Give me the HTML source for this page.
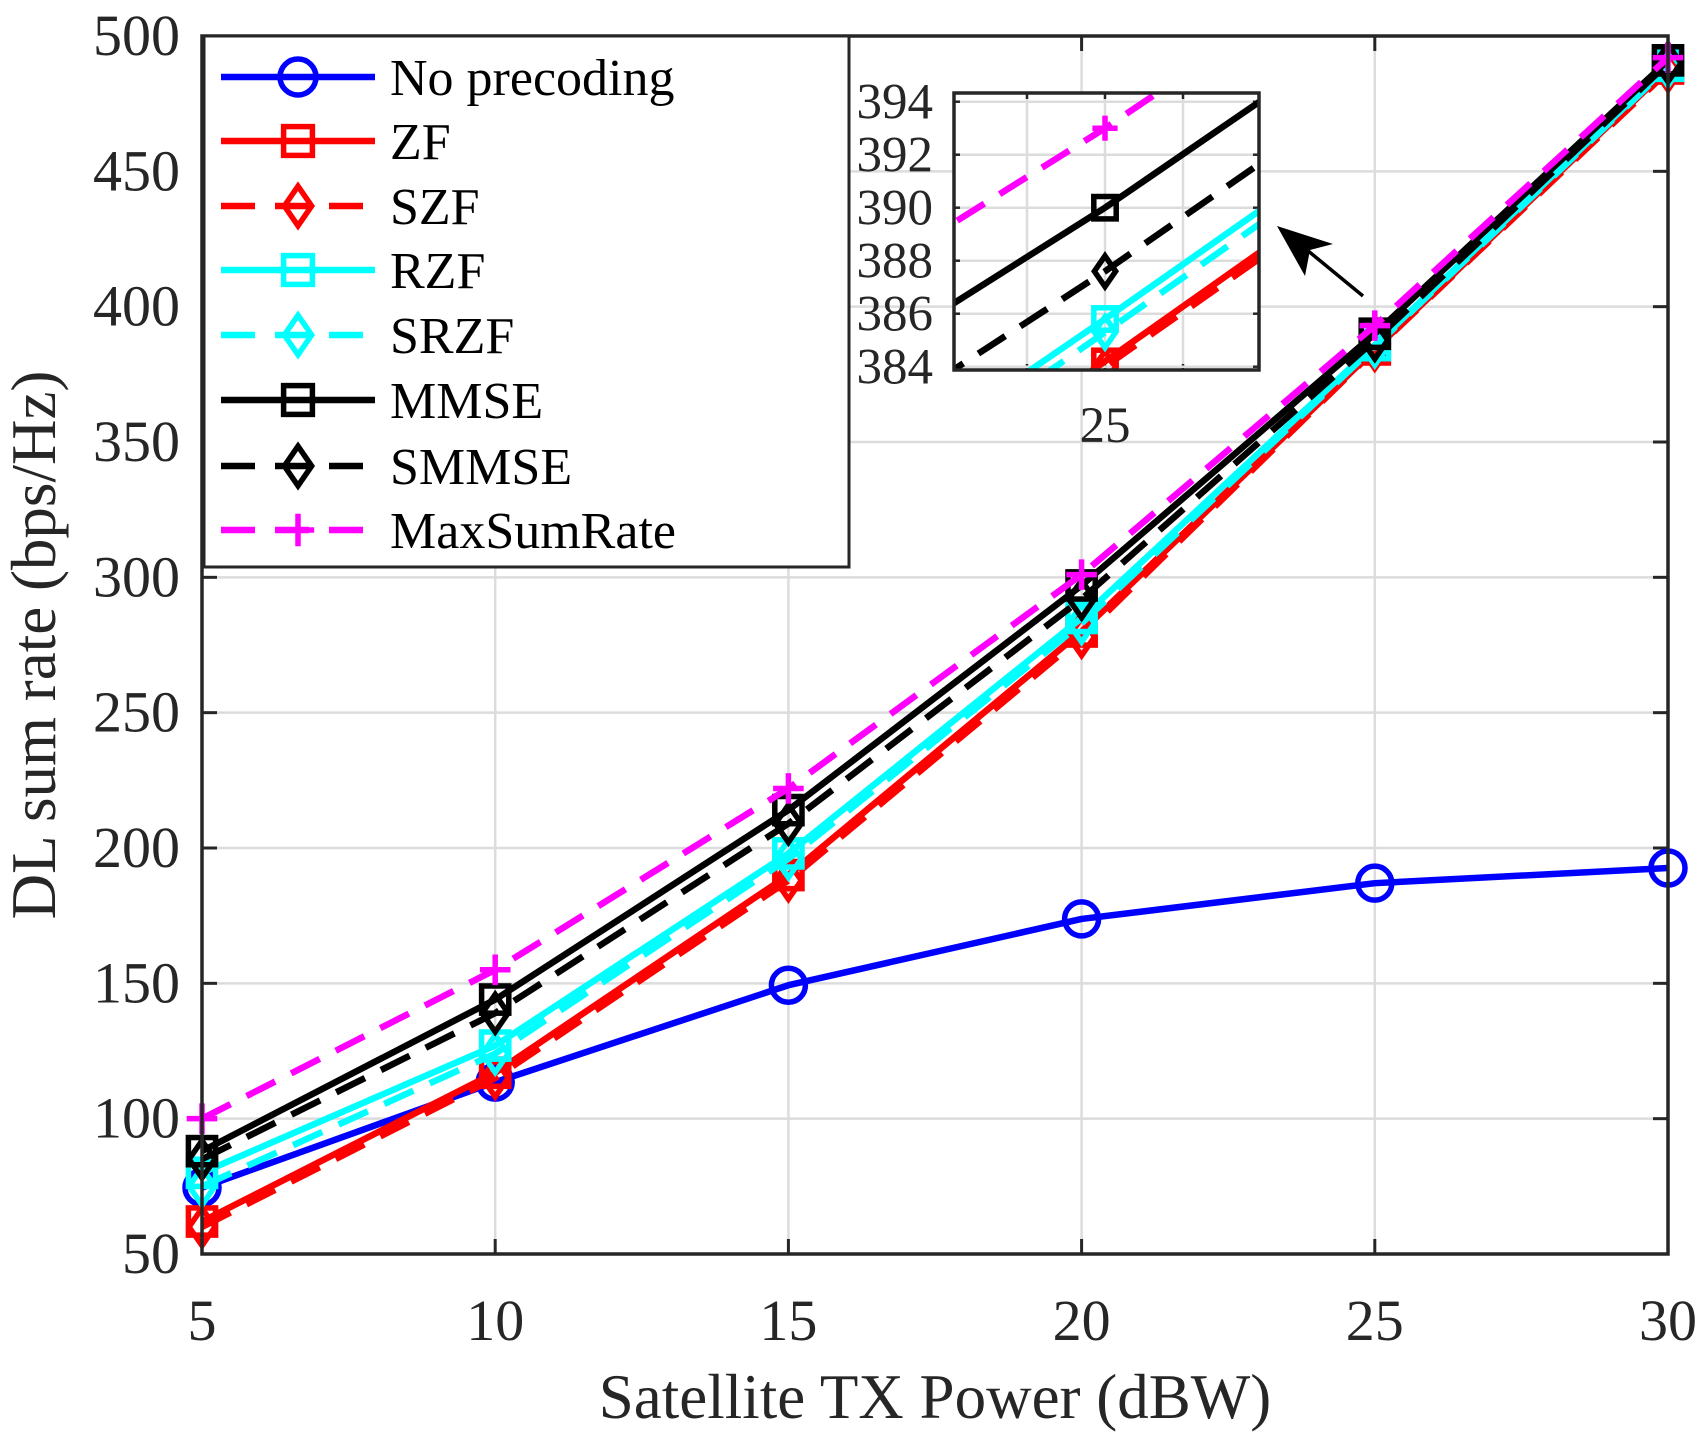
<!DOCTYPE html>
<html><head><meta charset="utf-8"><style>
html,body{margin:0;padding:0;background:#fff;width:1706px;height:1442px;overflow:hidden;}
svg{display:block;position:absolute;left:0;top:0;overflow:hidden;font-family:"Liberation Serif",serif;}
</style></head><body>
<svg id="chart" width="1706" height="1442" viewBox="0 0 1706 1442" xmlns="http://www.w3.org/2000/svg"></svg>
<script>
const xValues = [5, 10, 15, 20, 25, 30];
const seriesNames = ["No precoding","ZF","SZF","RZF","SRZF","MMSE","SMMSE","MaxSumRate"];
const noPrecoding = [74.5, 113.5, 149.3, 173.8, 187, 192.6];
const zf = [62, 117, 190, 280, 384.2, 488];
const szf = [60, 115, 188, 278, 384, 487];
const rzf = [80, 127, 198, 285, 385.8, 489];
const srzf = [75, 124, 196, 283, 385.3, 488.5];
const mmse = [88, 144, 214, 297, 390, 491];
const smmse = [85, 139, 209, 292, 387.6, 490];
const maxSumRate = [100, 155, 222, 301, 393, 492];
const xTicks = [5, 10, 15, 20, 25, 30];
const yTicks = [50, 100, 150, 200, 250, 300, 350, 400, 450, 500];
const insetYTicks = [384, 386, 388, 390, 392, 394];
const insetXTicks = [24.9, 25, 25.1];

const NS = "http://www.w3.org/2000/svg";
const svg = document.getElementById('chart');
function mk(tag, attrs, parent){const e=document.createElementNS(NS,tag);for(const k in attrs)e.setAttribute(k,attrs[k]);(parent||svg).appendChild(e);return e;}

const P={l:202,t:36,r:1668,b:1254};
const xS=v=>P.l+(v-5)/25*(P.r-P.l);
const yS=v=>P.b-(v-50)/450*(P.b-P.t);
const I={l:954,t:93,r:1259,b:370};
const ixS=v=>1105+(v-25)*780;
const iyS=v=>366.7-(v-384)*26.5;

const styles=[
 {c:"#0000ff",d:null,m:"circle",data:noPrecoding},
 {c:"#ff0000",d:null,m:"square",data:zf},
 {c:"#ff0000",d:"32 18",m:"diamond",data:szf},
 {c:"#00ffff",d:null,m:"square",data:rzf},
 {c:"#00ffff",d:"32 18",m:"diamond",data:srzf},
 {c:"#000000",d:null,m:"square",data:mmse},
 {c:"#000000",d:"32 18",m:"diamond",data:smmse},
 {c:"#ff00ff",d:"32 18",m:"plus",data:maxSumRate}
];
function marker(g,type,x,y,c,s){
  const a={fill:"none",stroke:c,"stroke-width":5.5};
  if(type==="circle")mk("circle",Object.assign({cx:x,cy:y,r:s*0.5},a),g);
  else if(type==="square")mk("rect",Object.assign({x:x-s*0.4,y:y-s*0.4,width:s*0.8,height:s*0.8},a),g);
  else if(type==="diamond")mk("polygon",Object.assign({points:`${x},${y-s*0.55} ${x+s*0.38},${y} ${x},${y+s*0.55} ${x-s*0.38},${y}`},a),g);
  else mk("path",Object.assign({d:`M${x-s*0.45},${y}H${x+s*0.45}M${x},${y-s*0.45}V${y+s*0.45}`},a),g);
}

const grid=mk("g",{});
xTicks.forEach(v=>mk("line",{x1:xS(v),x2:xS(v),y1:P.t,y2:P.b,stroke:"#dcdcdc","stroke-width":2.5},grid));
yTicks.forEach(v=>mk("line",{x1:P.l,x2:P.r,y1:yS(v),y2:yS(v),stroke:"#dcdcdc","stroke-width":2.5},grid));
const ax=mk("g",{});
xTicks.forEach(v=>{
  mk("line",{x1:xS(v),x2:xS(v),y1:P.b,y2:P.b-15,stroke:"#262626","stroke-width":3},ax);
  mk("line",{x1:xS(v),x2:xS(v),y1:P.t,y2:P.t+15,stroke:"#262626","stroke-width":3},ax);
  const t=mk("text",{x:xS(v),y:1340,"text-anchor":"middle","font-size":58,fill:"#262626"},ax);
  
  
  t.textContent=v;
});
yTicks.forEach(v=>{
  mk("line",{x1:P.l,x2:P.l+15,y1:yS(v),y2:yS(v),stroke:"#262626","stroke-width":3},ax);
  mk("line",{x1:P.r,x2:P.r-15,y1:yS(v),y2:yS(v),stroke:"#262626","stroke-width":3},ax);
  const t=mk("text",{x:180,y:yS(v)+19,"text-anchor":"end","font-size":58,fill:"#262626"},ax);
  
  
  t.textContent=v;
});
function drawSeries(g,xs,ys,ms){
  styles.forEach((s,i)=>{
    const sg=mk("g",{},g);
    
    
    const pts=xValues.map((x,j)=>xs(x)+","+ys(s.data[j])).join(" ");
    const pl={points:pts,fill:"none",stroke:s.c,"stroke-width":6.5,"stroke-linejoin":"round"};
    if(s.d)pl["stroke-dasharray"]=s.d;
    mk("polyline",pl,sg);
    xValues.forEach((x,j)=>marker(sg,s.m,xs(x),ys(s.data[j]),s.c,ms));
  });
}
const main=mk("g",{});
drawSeries(main,xS,yS,34);
mk("rect",{x:P.l,y:P.t,width:P.r-P.l,height:P.b-P.t,fill:"none",stroke:"#262626","stroke-width":3.5,});

const lg=mk("g",{});
mk("rect",{x:204,y:36,width:645,height:531,fill:"#fff",stroke:"#262626","stroke-width":3},lg);
const ly=[77,141,206,270,335,400,466,530];
styles.forEach((s,i)=>{
  const eg=mk("g",{},lg);
  
  
  const a={x1:221,x2:375,y1:ly[i],y2:ly[i],stroke:s.c,"stroke-width":6.5};
  if(s.d)a["stroke-dasharray"]="34 20";
  mk("line",a,eg);
  marker(eg,s.m,298,ly[i],s.c,36);
  const t=mk("text",{x:390,y:ly[i]+18,"font-size":52,fill:"#000"},eg);
  t.textContent=seriesNames[i];
});

const ins=mk("g",{});
mk("rect",{x:I.l,y:I.t,width:I.r-I.l,height:I.b-I.t,fill:"#fff"},ins);
const cp=mk("clipPath",{id:"ic"},ins);
mk("rect",{x:I.l,y:I.t,width:I.r-I.l,height:I.b-I.t},cp);
insetXTicks.forEach(v=>{mk("line",{x1:ixS(v),x2:ixS(v),y1:I.t,y2:I.b,stroke:"#dcdcdc","stroke-width":2.5},ins);
  mk("line",{x1:ixS(v),x2:ixS(v),y1:I.b,y2:I.b-6,stroke:"#262626","stroke-width":2.5},ins);
  mk("line",{x1:ixS(v),x2:ixS(v),y1:I.t,y2:I.t+6,stroke:"#262626","stroke-width":2.5},ins);});
insetYTicks.forEach(v=>{mk("line",{x1:I.l,x2:I.r,y1:iyS(v),y2:iyS(v),stroke:"#dcdcdc","stroke-width":2.5},ins);
  mk("line",{x1:I.l,x2:I.l+6,y1:iyS(v),y2:iyS(v),stroke:"#262626","stroke-width":2.5},ins);
  mk("line",{x1:I.r,x2:I.r-6,y1:iyS(v),y2:iyS(v),stroke:"#262626","stroke-width":2.5},ins);
  const t=mk("text",{x:933,y:iyS(v)+17,"text-anchor":"end","font-size":51,fill:"#262626"},ins);
  
  
  t.textContent=v;});
const ix=mk("text",{x:1105,y:442,"text-anchor":"middle","font-size":51,fill:"#262626",},ins);
ix.textContent="25";
const ig=mk("g",{"clip-path":"url(#ic)"},ins);
drawSeries(ig,ixS,iyS,28);
mk("rect",{x:I.l,y:I.t,width:I.r-I.l,height:I.b-I.t,fill:"none",stroke:"#262626","stroke-width":3.5},ins);

const ar=mk("g",{});
mk("line",{x1:1363,y1:296,x2:1290,y2:236,stroke:"#000","stroke-width":3.5},ar);
mk("polygon",{points:"1277,226 1333,244 1310,250 1305,276",fill:"#000"},ar);

const xt=mk("text",{x:935,y:1418,"text-anchor":"middle","font-size":63,fill:"#262626",});
xt.textContent="Satellite TX Power (dBW)";
const yt=mk("text",{x:0,y:0,transform:"translate(55,645) rotate(-90)","text-anchor":"middle","font-size":63,fill:"#262626",});
yt.textContent="DL sum rate (bps/Hz)";
</script>
</body></html>
